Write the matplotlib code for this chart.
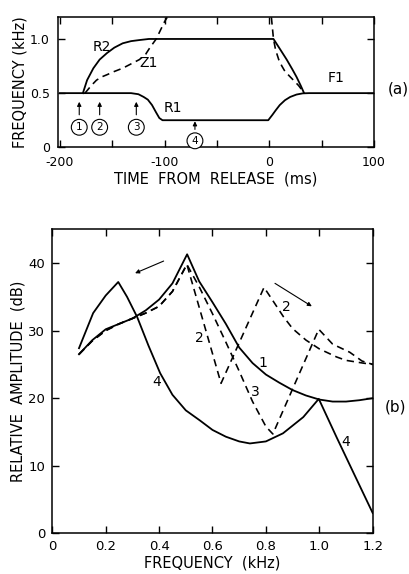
import numpy as np
import matplotlib
matplotlib.use("Agg")
import matplotlib.pyplot as plt

# ------------------------------------------------------------------
# (a) formant / resonance trajectories vs time from release
# ------------------------------------------------------------------
f1_t = [-200, -132, -125, -120, -116, -112, -108, -105, -102, -1, 3, 6, 10, 15, 20, 26, 32, 38, 100]
f1_f = [0.5, 0.5, 0.49, 0.465, 0.44, 0.39, 0.32, 0.27, 0.25, 0.25, 0.30, 0.34, 0.39, 0.435, 0.465, 0.487, 0.498, 0.5, 0.5]

r2_t = [-178, -174, -168, -162, -155, -148, -140, -132, -124, -115, -108, 4, 10, 16.6, 22, 26, 30, 33]
r2_f = [0.5, 0.62, 0.73, 0.81, 0.87, 0.92, 0.96, 0.98, 0.99, 1.0, 1.0, 1.0, 0.91, 0.81, 0.72, 0.65, 0.57, 0.505]

z1a_t = [-176, -170, -165, -160, -155, -148, -140, -132, -124, -118, -114, -111, -108, -104, -100, -97.5]
z1a_f = [0.5, 0.57, 0.62, 0.65, 0.67, 0.70, 0.73, 0.77, 0.81, 0.86, 0.92, 0.96, 1.0, 1.08, 1.16, 1.2]
z1b_t = [2, 3, 4, 6, 9, 12, 15, 19, 23, 28, 33]
z1b_f = [1.2, 1.1, 1.0, 0.9, 0.81, 0.75, 0.70, 0.66, 0.62, 0.57, 0.505]

marker_t = [-181.5, -162, -127, -71]
marker_lbl = ["1", "2", "3", "4"]

# ------------------------------------------------------------------
# (b) spectra, relative amplitude vs frequency
# ------------------------------------------------------------------
c1_x = [0.1, 0.15, 0.2, 0.25, 0.3, 0.35, 0.4, 0.45, 0.505, 0.55, 0.6, 0.65, 0.7,
        0.75, 0.8, 0.85, 0.9, 0.95, 1.0, 1.05, 1.1, 1.15, 1.2]
c1_y = [26.5, 28.6, 30.2, 31.0, 31.8, 33.0, 34.6, 37.0, 41.3, 37.3, 34.2, 31.0, 27.5,
        25.2, 23.5, 22.3, 21.2, 20.4, 19.8, 19.5, 19.5, 19.7, 20.0]

c4_x = [0.1, 0.153, 0.2, 0.247, 0.28, 0.318, 0.36, 0.404, 0.45, 0.5, 0.553, 0.6, 0.65,
        0.7, 0.74, 0.8, 0.864, 0.94, 0.998, 1.065, 1.13, 1.2]
c4_y = [27.4, 32.6, 35.2, 37.2, 35.0, 32.0, 27.8, 23.7, 20.5, 18.2, 16.7, 15.3, 14.3,
        13.6, 13.3, 13.6, 14.8, 17.2, 19.9, 14.2, 8.8, 3.0]

c2_x = [0.1, 0.15, 0.2, 0.25, 0.3, 0.35, 0.4, 0.45, 0.504, 0.632, 0.793, 0.83, 0.865,
        0.9, 0.95, 1.0, 1.065, 1.1, 1.163, 1.2]
c2_y = [26.5, 28.5, 30.0, 31.0, 31.8, 32.6, 33.6, 35.8, 39.8, 22.2, 36.4, 34.2, 32.1,
        30.3, 28.6, 27.3, 26.1, 25.6, 25.2, 25.0]

c3_x = [0.1, 0.15, 0.2, 0.25, 0.3, 0.35, 0.4, 0.45, 0.504, 0.55, 0.6, 0.65, 0.7, 0.75,
        0.8, 0.826, 0.998, 1.05, 1.114, 1.16, 1.2]
c3_y = [26.5, 28.5, 30.0, 31.0, 31.8, 32.6, 33.6, 35.8, 39.8, 36.5, 32.5, 28.3, 24.0, 19.5,
        15.8, 14.7, 30.2, 28.0, 26.8, 25.5, 25.0]

W, H = 409, 574
fig = plt.figure(figsize=(W / 100, H / 100), dpi=100)

lw = 1.3
dash = (0, (4.5, 3))
arrow_kw = dict(arrowstyle="-|>", color="black", lw=0.8, mutation_scale=6,
                shrinkA=0, shrinkB=0)

# --- panel (a) ---
ax1 = fig.add_axes([58.3 / W, 1 - 147.3 / H, 315.7 / W, 130 / H])
ax1.plot(f1_t, f1_f, color="black", lw=lw)
ax1.plot(r2_t, r2_f, color="black", lw=lw)
ax1.plot(z1a_t, z1a_f, color="black", lw=lw * 0.9, linestyle=dash)
ax1.plot(z1b_t, z1b_f, color="black", lw=lw * 0.9, linestyle=dash)
ax1.set_xlim(-201.5, 100)
ax1.set_ylim(0, 1.2)

for t, lbl in zip(marker_t, marker_lbl):
    if lbl == "4":
        y0, y1, yc = 0.165, 0.24, 0.06
    else:
        y0, y1, yc = 0.30, 0.42, 0.185
    ax1.annotate("", xy=(t, y1), xytext=(t, y0), arrowprops=arrow_kw)
    ax1.text(t, yc, lbl, ha="center", va="center", fontsize=7.5,
             bbox=dict(boxstyle="circle,pad=0.28", fc="white", ec="black", lw=0.8))

ax1.text(-160, 0.93, "R2", fontsize=10, ha="center", va="center")
ax1.text(-115, 0.78, "Z1", fontsize=10, ha="center", va="center")
ax1.text(-92, 0.36, "R1", fontsize=10, ha="center", va="center")
ax1.text(64, 0.64, "F1", fontsize=10, ha="center", va="center")

ax1.set_xticks([-200, -150, -100, -50, 0, 50, 100])
ax1.set_xticklabels(["-200", "", "-100", "", "0", "", "100"])
ax1.set_yticks([0, 0.5, 1.0])
ax1.set_yticklabels(["0", "0.5", "1.0"])
ax1.tick_params(direction="in", top=True, right=True, length=5, width=1,
                labelsize=9, pad=6)
ax1.set_xlabel("TIME  FROM  RELEASE  (ms)", fontsize=10.5)
ax1.set_ylabel("FREQUENCY (kHz)", fontsize=10.5)
ax1.xaxis.set_label_coords(0.5, -0.185)
ax1.yaxis.set_label_coords(-0.099, 0.5)
for s in ax1.spines.values():
    s.set_linewidth(1.1)

# --- panel (b) ---
ax2 = fig.add_axes([52.3 / W, 1 - 533.3 / H, 320.4 / W, 304 / H])
ax2.plot(c1_x, c1_y, color="black", lw=lw)
ax2.plot(c4_x, c4_y, color="black", lw=lw)
ax2.plot(c2_x, c2_y, color="black", lw=lw * 0.9, linestyle=dash)
ax2.plot(c3_x, c3_y, color="black", lw=lw * 0.9, linestyle=dash)
ax2.set_xlim(0, 1.2)
ax2.set_ylim(0, 45)

ax2.annotate("", xy=(0.31, 38.5), xytext=(0.417, 40.3), arrowprops=arrow_kw)
ax2.annotate("", xy=(0.972, 33.6), xytext=(0.834, 37.0), arrowprops=arrow_kw)

ax2.text(0.55, 28.9, "2", fontsize=10, ha="center", va="center")
ax2.text(0.76, 20.9, "3", fontsize=10, ha="center", va="center")
ax2.text(0.79, 25.2, "1", fontsize=10, ha="center", va="center")
ax2.text(0.877, 33.5, "2", fontsize=10, ha="center", va="center")
ax2.text(0.39, 22.4, "4", fontsize=10, ha="center", va="center")
ax2.text(1.10, 13.5, "4", fontsize=10, ha="center", va="center")

ax2.set_xticks([0, 0.2, 0.4, 0.6, 0.8, 1.0, 1.2])
ax2.set_xticklabels(["0", "0.2", "0.4", "0.6", "0.8", "1.0", "1.2"])
ax2.set_yticks([0, 10, 20, 30, 40])
ax2.tick_params(direction="in", top=True, right=True, length=5, width=1,
                labelsize=9.5, pad=5)
ax2.set_xlabel("FREQUENCY  (kHz)", fontsize=10.5)
ax2.set_ylabel("RELATIVE  AMPLITUDE  (dB)", fontsize=10.5)
ax2.xaxis.set_label_coords(0.5, -0.072)
ax2.yaxis.set_label_coords(-0.085, 0.5)
for s in ax2.spines.values():
    s.set_linewidth(1.1)

fig.text(398 / W, 1 - 89 / H, "(a)", fontsize=11, ha="center", va="center")
fig.text(395 / W, 1 - 407 / H, "(b)", fontsize=11, ha="center", va="center")

fig.savefig("out.png", dpi=100, facecolor="white")
